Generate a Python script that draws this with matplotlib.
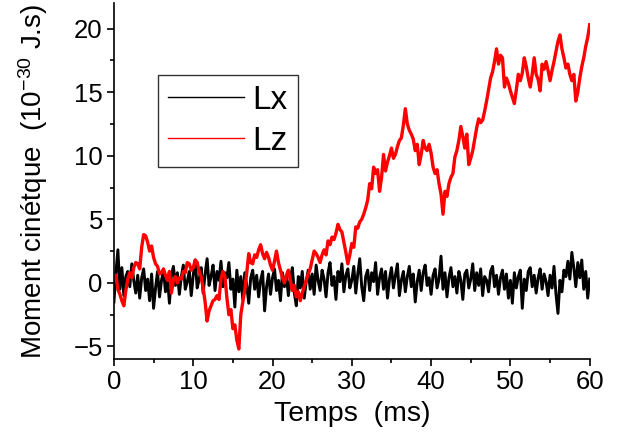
import numpy as np
import matplotlib
matplotlib.use("Agg")
import matplotlib.pyplot as plt
from matplotlib.ticker import MultipleLocator

plt.rcParams['font.family'] = ['Liberation Sans', 'DejaVu Sans']
plt.rcParams['mathtext.default'] = 'regular'

# time axis, ms (one sample every 0.25 ms)
t = np.arange(0, 60.001, 0.25)

# angular momentum, 1e-30 J.s
Lx = [-1.5, 0.8, 2.6, -0.5, 1.2, -1.0, 0.5, 0.9, -0.3, 1.5, 0.2, -0.8, 0.6, -1.2, 0.4, 1.1, -0.6, 0.3, -1.4, 0.7,
      -2.0, -0.4, 0.9, -1.1, 0.2, 1.0, -0.7, 0.4, -1.6, 0.6, 1.3, -0.2, 0.8, -0.9, 0.5, 1.4, -0.5, 0.1, 0.9, -1.0,
      0.6, 1.8, -0.4, 0.3, 1.2, -0.8, 0.7, 1.9, -0.2, 0.5, 1.4, -0.6, 0.9, 0.2, 1.7, -0.3, 0.8, 0.4, 1.6, -0.5,
      0.3, -1.9, 1.0, -0.7, 0.5, -1.3, 0.8, -0.2, -1.6, 0.4, 1.0, -0.5, 0.6, -1.1, 0.2, 0.9, -2.2, -0.3, 0.7, -0.9,
      0.4, 1.1, -0.6, 0.2, -1.4, 0.8, -0.3, 0.6, -1.0, 0.3, 1.2, -0.8, -1.8, 0.5, -0.4, 0.9, -1.2, 0.1, 1.0, -0.5,
      0.7, -0.9, 1.4, 0.2, -0.6, 1.0, 0.3, -1.1, 0.8, 1.6, -0.2, 0.5, -1.3, 0.9, 0.1, 1.5, -0.7, 0.6, 1.1, -0.4,
      0.2, 1.3, -0.8, 0.7, 1.9, -0.3, -1.4, 0.5, 1.0, -0.6, 0.8, 0.1, 1.6, -0.9, 0.4, 1.1, -0.5, 0.9, -1.2, 0.3,
      1.2, -0.4, 0.6, 1.5, -1.0, 0.2, 0.9, -0.7, 0.5, 1.3, -0.3, 0.7, -1.5, 0.1, 1.0, -0.6, 0.8, 1.4, -0.2, 0.4,
      -0.9, 0.6, 1.1, -0.4, 0.3, 2.1, -0.5, 0.8, -1.1, 0.4, 1.2, -0.3, 0.5, -0.8, 0.9, 0.2, -1.3, 0.7, 1.0, -0.4,
      0.3, 1.5, -0.6, 0.8, -0.2, 1.1, -1.0, 0.5, 0.2, -0.7, 0.9, 1.3, -0.3, 0.6, -0.9, 0.4, 1.0, -0.5, 0.7, -1.2,
      0.2, -1.6, 0.8, -0.4, 0.5, 1.0, -2.0, 0.3, -0.6, 0.9, 1.2, -0.3, 0.6, -0.8, 0.4, 1.1, -0.5, 0.7, 0.1, -1.0,
      0.6, -0.4, 1.3, -0.9, -2.4, 0.2, -0.7, 1.0, 0.5, 1.7, 0.3, 2.4, 1.2, -0.3, 1.6, 0.4, 1.8, -0.5, 0.9, -1.2,
      0.3]

Lz = [0.2, 0.6, -0.5, -0.9, -1.4, -1.8, -0.6, 0.3, 0.8, 0.4, 1.2, 1.6, 1.5, 1.1, 2.8, 3.8, 3.7, 3.2, 2.5, 2.9,
      2.0, 1.5, 1.3, 0.7, 0.8, 1.1, 0.6, 0.2, 0.9, -0.8, 0.2, 0.5, 0.0, 0.4, 0.3, 0.9, 0.8, 1.6, 1.5, 1.0,
      1.2, 1.8, 1.6, 0.9, 0.5, -0.4, -1.5, -3.0, -2.2, -1.8, -1.4, -1.3, -1.0, -1.3, 0.3, 0.9, 0.5, -1.2, -2.5, -2.1,
      -3.6, -3.3, -4.5, -5.2, -2.5, -1.5, -0.6, 0.8, 2.3, 1.6, 1.5, 2.2, 2.0, 2.6, 3.0, 2.3, 1.9, 2.4, 2.0, 1.4,
      1.0, 1.7, 2.5, 1.6, 1.0, 0.4, 0.0, 0.6, 1.0, 0.2, -0.6, -0.2, -1.1, -0.7, -1.4, -0.8, -0.3, 0.2, 0.7, 1.1,
      1.8, 2.5, 2.3, 2.0, 1.6, 2.2, 2.6, 2.2, 3.3, 3.0, 3.6, 3.4, 3.9, 4.6, 4.2, 4.0, 3.2, 2.4, 1.5, 2.2,
      3.1, 2.8, 4.4, 4.3, 4.8, 5.0, 5.4, 5.9, 6.5, 7.8, 7.4, 9.1, 8.6, 8.9, 7.2, 8.3, 10.1, 8.8, 9.5, 10.0,
      10.6, 9.8, 10.1, 10.7, 11.2, 11.4, 12.4, 13.7, 12.5, 12.0, 11.7, 11.3, 10.4, 10.9, 9.3, 10.1, 11.2, 10.6, 10.4, 10.9,
      10.2, 9.1, 8.6, 8.9, 7.8, 7.0, 5.4, 7.2, 6.8, 7.8, 8.3, 8.6, 9.9, 10.4, 11.2, 12.3, 11.5, 10.6, 11.7, 9.3,
      9.8, 10.4, 11.3, 12.2, 12.9, 12.6, 12.8, 13.5, 14.3, 15.2, 16.1, 16.6, 17.4, 18.4, 17.2, 17.9, 17.7, 15.4, 16.1, 15.7,
      15.1, 14.6, 14.1, 15.2, 16.4, 15.9, 16.5, 17.7, 17.0, 16.1, 15.4, 16.4, 17.7, 16.4, 16.0, 15.1, 17.2, 16.8, 17.4, 16.7,
      15.9, 16.7, 17.4, 18.2, 19.0, 19.5, 18.4, 17.7, 16.9, 17.2, 16.4, 15.9, 16.4, 14.3, 15.0, 16.1, 17.0, 17.7, 18.6, 19.3,
      20.3]

fig = plt.figure(figsize=(6.26, 4.44), dpi=100)
ax = fig.add_axes([0.182, 0.191, 0.76, 0.802])

ax.plot(t, Lx, color='black', lw=2.1, label='Lx')
ax.plot(t, Lz, color='red', lw=2.4, label='Lz')

ax.set_xlim(0, 60)
ax.set_ylim(-6, 22)
ax.xaxis.set_major_locator(MultipleLocator(10))
ax.xaxis.set_minor_locator(MultipleLocator(5))
ax.yaxis.set_major_locator(MultipleLocator(5))
ax.yaxis.set_minor_locator(MultipleLocator(2.5))
ax.spines['top'].set_visible(False)
ax.spines['right'].set_visible(False)
for s in ['left', 'bottom']:
    ax.spines[s].set_linewidth(1.2)
ax.tick_params(which='major', direction='out', length=5, width=1.2, labelsize=18.5, pad=3)
ax.tick_params(which='minor', direction='out', length=3, width=1.2)

ax.set_xlabel('Temps  (ms)', fontsize=20.5, labelpad=5)
ax.set_ylabel('Moment cinétque  (10$^{-30}$ J.s)', fontsize=20, labelpad=17)

leg = ax.legend(loc='upper left', bbox_to_anchor=(0.092, 0.798), borderaxespad=0,
                fontsize=24, fancybox=False, handlelength=2.3, handletextpad=0.25,
                borderpad=0.3, labelspacing=0.3)
leg.get_frame().set_edgecolor('black')
leg.get_frame().set_linewidth(1.0)
for ln in leg.get_lines():
    ln.set_linewidth(1.0)

fig.savefig('out.png', dpi=100)
